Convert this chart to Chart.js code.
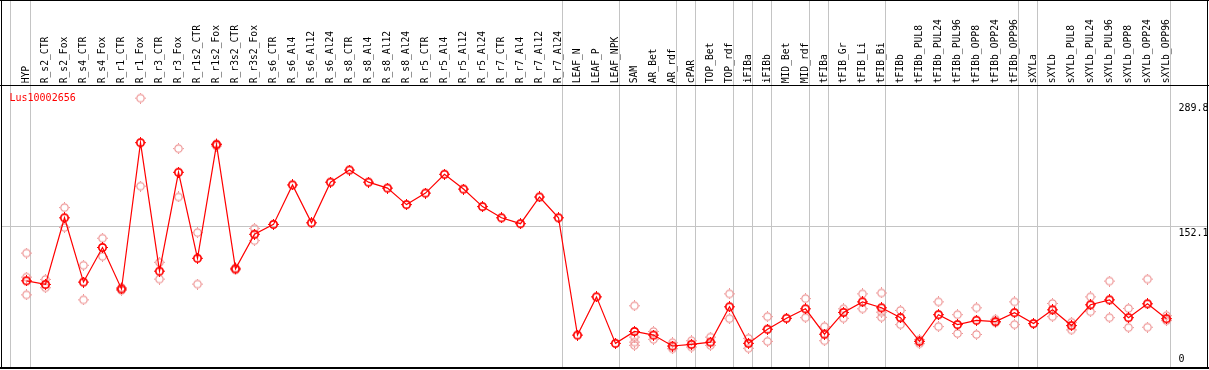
<!DOCTYPE html>
<html>
<head>
<meta charset="utf-8">
<title>Lus10002656</title>
<script src="https://cdn.jsdelivr.net/npm/chart.js@4.4.1/dist/chart.umd.min.js"></script>
<style>
  html, body { margin: 0; padding: 0; background: #ffffff; overflow: hidden; }
  canvas { display: block; }
</style>
</head>
<body>
<canvas id="c" width="1209" height="370"></canvas>
<script>
const geneName = 'Lus10002656';

const categories = [
  'HYP','R_s2_CTR','R_s2_Fox','R_s4_CTR','R_s4_Fox','R_r1_CTR','R_r1_Fox','R_r3_CTR','R_r3_Fox',
  'R_r1s2_CTR','R_r1s2_Fox','R_r3s2_CTR','R_r3s2_Fox','R_s6_CTR','R_s6_Al4','R_s6_Al12','R_s6_Al24',
  'R_s8_CTR','R_s8_Al4','R_s8_Al12','R_s8_Al24','R_r5_CTR','R_r5_Al4','R_r5_Al12','R_r5_Al24',
  'R_r7_CTR','R_r7_Al4','R_r7_Al12','R_r7_Al24','LEAF_N','LEAF_P','LEAF_NPK','SAM','AR_Bet','AR_rdf',
  'cPAR','TOP_Bet','TOP_rdf','iFIBa','iFIBb','MID_Bet','MID_rdf','tFIBa','tFIB_Gr','tFIB_Li','tFIB_Bi',
  'tFIBb','tFIBb_PUL8','tFIBb_PUL24','tFIBb_PUL96','tFIBb_OPP8','tFIBb_OPP24','tFIBb_OPP96','sXYLa',
  'sXYLb','sXYLb_PUL8','sXYLb_PUL24','sXYLb_PUL96','sXYLb_OPP8','sXYLb_OPP24','sXYLb_OPP96'
];

const meanValues = [
  92.5, 88.5, 161.9, 91.1, 129.2, 83.5, 244.6, 103.1, 212.0,
  117.3, 242.5, 105.6, 143.7, 154.6, 198.1, 156.4, 201.1,
  214.5, 201.1, 194.6, 176.4, 189.1, 209.8, 193.5, 174.2,
  161.9, 155.4, 184.8, 161.9, 32.7, 74.8, 23.6, 36.7, 32.7, 20.7,
  22.5, 25.0, 63.9, 23.6, 39.2, 51.2, 61.7, 33.7, 57.7, 69.3, 62.8,
  51.9, 25.8, 55.2, 44.3, 49.0, 47.6, 57.4, 45.4,
  60.6, 43.2, 66.1, 71.5, 51.9, 67.2, 50.8
];

const repA = [
  123.0, 94.0, 173.1, 109.6, 139.4, 85.0, 293.6, 112.9, 238.1,
  145.6, 243.5, 106.7, 150.2, null, null, null, null,
  null, null, null, null, null, null, null, null,
  null, null, null, null, null, null, null, 65.0, 36.7, 24.3,
  26.5, 30.5, 78.1, 29.1, 53.0, null, 72.9, 42.1, 61.7, 78.1, 79.1,
  59.9, 27.7, 69.3, 55.2, 62.8, 50.1, 69.3, null,
  67.5, 46.8, 74.8, 92.2, 62.1, 94.4, 54.1
];

const repB = [
  96.6, 84.9, 151.3, 71.5, 119.4, 82.0, 196.7, 94.4, 184.8,
  88.9, 240.9, 104.5, 136.8, null, null, null, null,
  null, null, null, null, null, null, null, null,
  null, null, null, null, null, null, null, 30.5, 28.0, 17.7,
  19.6, 21.4, 50.8, 18.2, 25.8, null, 51.9, 26.5, 51.2, 61.7, 58.0,
  44.3, 23.3, 42.1, 34.5, 33.4, 46.5, 44.3, null,
  53.0, 38.4, 58.5, 51.9, 41.0, 41.4, 48.7
];

const repC = [
  77.0, null, null, null, null, null, null, null, null,
  null, null, null, null, null, null, null, null,
  null, null, null, null, null, null, null, null,
  null, null, null, null, null, null, null, 25.0, null, null,
  null, null, null, null, null, null, null, null, null, null, 52.3,
  null, null, null, null, null, null, null, null,
  null, null, null, null, null, null, null
];

const repD = [
  null, null, null, null, null, null, null, null, null,
  null, null, null, null, null, null, null, null,
  null, null, null, null, null, null, null, null,
  null, null, null, null, null, null, null, 21.4, null, null,
  null, null, null, null, null, null, null, null, null, null, null,
  null, null, null, null, null, null, null, null,
  null, null, null, null, null, null, null
];

const yTickValues = [0, 152.1, 289.8];
const yTickLabels = ['0', '152.1', '289.8'];
const yGridValues = [152.1];
const groupEnds = ['HYP','R_r7_Al24','LEAF_NPK','AR_rdf','cPAR','TOP_rdf','iFIBa','iFIBb',
                   'MID_rdf','tFIBa','tFIB_Bi','tFIBb_OPP96','sXYLa','sXYLb_OPP96'];

const MEAN_COLOR = '#ff0000';
const REP_COLOR = 'rgb(238,150,150)';
const GRID_COLOR = '#c4c4c4';
const FONT = '"DejaVu Sans Mono", "Liberation Mono", monospace';

function makeMarker(color, lw) {
  const c = document.createElement('canvas');
  c.width = 11; c.height = 11;
  const g = c.getContext('2d');
  g.strokeStyle = color;
  g.lineWidth = lw;
  g.beginPath();
  g.arc(5.5, 5.5, 3.7, 0, Math.PI * 2);
  g.stroke();
  g.fillStyle = color;
  g.fillRect(5, 0, 1, 1);
  g.fillRect(5, 10, 1, 1);
  g.fillRect(0, 5, 1, 1);
  g.fillRect(10, 5, 1, 1);
  return c;
}
const meanMarker = makeMarker(MEAN_COLOR, 1.7);
const repMarker = makeMarker(REP_COLOR, 1.2);

const framePlugin = {
  id: 'frame',
  beforeDatasetsDraw(chart) {
    const ctx = chart.ctx;
    const W = chart.width;
    const xs = chart.scales.x, ys = chart.scales.y;
    const area = chart.chartArea;
    const step = xs.getPixelForValue(1) - xs.getPixelForValue(0);
    const bottom = 368;
    ctx.save();
    ctx.fillStyle = '#ffffff';
    ctx.fillRect(0, 0, W, chart.height);

    // vertical group separators
    ctx.fillStyle = GRID_COLOR;
    const firstX = Math.floor(xs.getPixelForValue(0) - 0.83 * step);
    ctx.fillRect(firstX, 0, 1, bottom);
    groupEnds.forEach(name => {
      const i = categories.indexOf(name);
      const x = Math.floor(xs.getPixelForValue(i) + 0.22 * step);
      ctx.fillRect(x, 0, 1, bottom);
    });
    // horizontal grid
    yGridValues.forEach(v => {
      const y = Math.floor(ys.getPixelForValue(v));
      ctx.fillRect(1, y, W - 2, 1);
    });

    // frame
    ctx.fillStyle = '#000000';
    ctx.fillRect(0, 0, W, 1);
    ctx.fillRect(0, 85, W, 1);
    ctx.fillRect(0, 367, W, 2);
    ctx.fillRect(1, 0, 1, 369);
    ctx.fillRect(W - 2, 0, 1, 369);

    // category labels (rotated)
    ctx.fillStyle = '#000000';
    ctx.font = '9.7px ' + FONT;
    ctx.textAlign = 'left';
    ctx.textBaseline = 'alphabetic';
    categories.forEach((name, i) => {
      const x = xs.getPixelForValue(i);
      ctx.save();
      ctx.translate(x + 2.6, 83.3);
      ctx.rotate(-Math.PI / 2);
      ctx.fillText(name, 0, 0);
      ctx.restore();
    });

    // y tick labels
    ctx.font = '10px ' + FONT;
    ctx.textAlign = 'left';
    yTickValues.forEach((v, k) => {
      let y = ys.getPixelForValue(v) + 9;
      if (v === 0) y = area.bottom - 2.5;
      ctx.fillText(yTickLabels[k], 1178.5, y);
    });

    // gene name
    ctx.fillStyle = '#ff0000';
    ctx.font = '10px ' + FONT;
    ctx.fillText(geneName, 9.5, 100.8);
    ctx.restore();
  }
};

function repDataset(values, ord) {
  return {
    data: values,
    showLine: false,
    pointStyle: repMarker,
    pointRadius: 4,
    pointHoverRadius: 4,
    borderColor: REP_COLOR,
    backgroundColor: REP_COLOR,
    order: ord,
    clip: false
  };
}

new Chart(document.getElementById('c'), {
  type: 'line',
  data: {
    labels: categories,
    datasets: [
      {
        data: meanValues,
        borderColor: MEAN_COLOR,
        backgroundColor: MEAN_COLOR,
        borderWidth: 1.2,
        tension: 0,
        pointStyle: meanMarker,
        pointRadius: 4,
        pointHoverRadius: 4,
        order: 0,
        clip: false
      },
      repDataset(repA, 1),
      repDataset(repB, 2),
      repDataset(repC, 3),
      repDataset(repD, 4)
    ]
  },
  options: {
    responsive: false,
    devicePixelRatio: 1,
    animation: false,
    events: [],
    layout: { padding: { left: 26.5, right: 42.5, top: 86, bottom: 2 } },
    plugins: { legend: { display: false }, tooltip: { enabled: false } },
    scales: {
      x: { type: 'category', display: false, offset: false },
      y: { type: 'linear', display: false, min: 0, max: 307 }
    }
  },
  plugins: [framePlugin]
});
</script>
</body>
</html>
